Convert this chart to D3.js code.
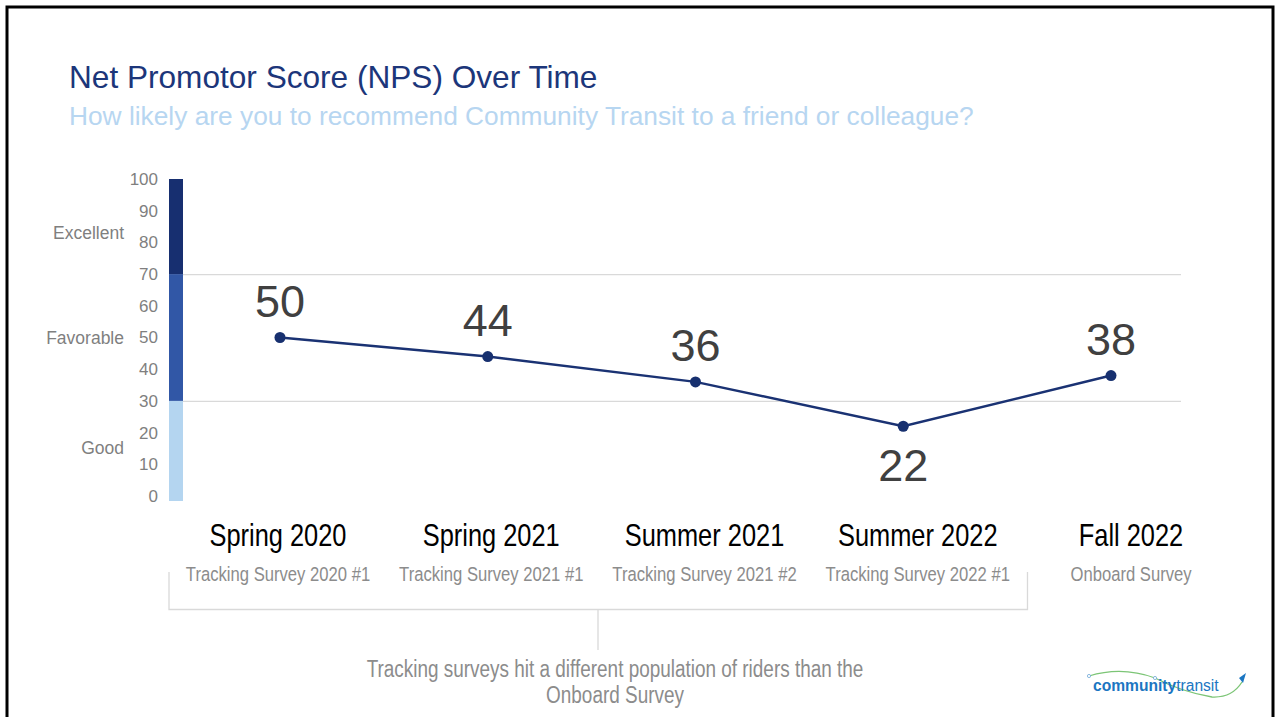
<!DOCTYPE html>
<html>
<head>
<meta charset="utf-8">
<script src="https://cdn.jsdelivr.net/npm/d3@7"></script>
<style>
  html, body { margin: 0; padding: 0; background: #fff; }
  svg { display: block; }
</style>
</head>
<body>
<svg id="chart" width="1275" height="717"></svg>
<script>
// chart data
var periods = ['Spring 2020', 'Spring 2021', 'Summer 2021', 'Summer 2022', 'Fall 2022'];
var surveys = ['Tracking Survey 2020 #1', 'Tracking Survey 2021 #1', 'Tracking Survey 2021 #2', 'Tracking Survey 2022 #1', 'Onboard Survey'];
var npsValues = [50, 44, 36, 22, 38];
var yTicks = [0, 10, 20, 30, 40, 50, 60, 70, 80, 90, 100];
var bandNames = ['Good', 'Favorable', 'Excellent'];
var bandLow = [0, 30, 70];
var bandHigh = [30, 70, 100];
var bandLabelAt = [15, 50, 83];
var bandColors = ['#b4d5f0', '#3157a6', '#172f70'];
var gridValues = [30, 70];

var titleText = 'Net Promotor Score (NPS) Over Time';
var subtitleText = 'How likely are you to recommend Community Transit to a friend or colleague?';
var noteLines = ['Tracking surveys hit a different population of riders than the', 'Onboard Survey'];

var svg = d3.select('#chart');
var SANS = '"Liberation Sans", Arial, sans-serif';
var NARROW = 0.82; // fake Arial Narrow by squeezing horizontally

// slide frame
svg.append('rect')
    .attr('x', 7).attr('y', 7)
    .attr('width', 1266).attr('height', 730)
    .attr('fill', 'none')
    .attr('stroke', '#000')
    .attr('stroke-width', 3);

// titles
svg.append('text')
    .attr('x', 69).attr('y', 88)
    .attr('font-family', SANS).attr('font-size', 31.6)
    .attr('fill', '#1c367a')
    .text(titleText);

svg.append('text')
    .attr('x', 69).attr('y', 125)
    .attr('font-family', SANS).attr('font-size', 26.3)
    .attr('fill', '#b7d6f1')
    .text(subtitleText);

// scales: points for the line, a slightly wider spread for the labels underneath
var x = d3.scalePoint().domain(periods).range([280, 1111]);
var xLabel = d3.scalePoint().domain(periods).range([278, 1131]);
var y = d3.scaleLinear().domain([0, 100]).range([496, 179]);

// gridlines
svg.selectAll('line.grid').data(gridValues).enter().append('line')
    .attr('class', 'grid')
    .attr('x1', 183).attr('x2', 1181)
    .attr('y1', function(d) { return y(d) + 0.5; })
    .attr('y2', function(d) { return y(d) + 0.5; })
    .attr('stroke', '#d9d9d9')
    .attr('stroke-width', 1.2);

// coloured rating bar
var bands = bandNames.map(function(n, i) {
  return { name: n, lo: bandLow[i], hi: bandHigh[i], at: bandLabelAt[i], color: bandColors[i] };
});

svg.selectAll('rect.band').data(bands).enter().append('rect')
    .attr('class', 'band')
    .attr('x', 169).attr('width', 14)
    .attr('y', function(d) { return y(d.hi); })
    .attr('height', function(d) { return y(d.lo) - y(d.hi) + (d.lo === 0 ? 5 : 0); })
    .attr('fill', function(d) { return d.color; });

// band names
svg.selectAll('text.bandName').data(bands).enter().append('text')
    .attr('class', 'bandName')
    .attr('x', 124)
    .attr('y', function(d) { return y(d.at) + 6; })
    .attr('text-anchor', 'end')
    .attr('font-family', SANS).attr('font-size', 17.5)
    .attr('fill', '#7f7f7f')
    .text(function(d) { return d.name; });

// y axis
var yAxis = svg.append('g')
    .attr('transform', 'translate(166,0)')
    .call(d3.axisLeft(y).tickValues(yTicks).tickSize(0).tickPadding(8));
yAxis.select('.domain').remove();
yAxis.selectAll('text')
    .attr('font-family', SANS).attr('font-size', 17)
    .attr('fill', '#7f7f7f');

// line + markers
var line = d3.line()
    .x(function(d, i) { return x(periods[i]); })
    .y(function(d) { return y(d); });

svg.append('path')
    .datum(npsValues)
    .attr('d', line)
    .attr('fill', 'none')
    .attr('stroke', '#1a3273')
    .attr('stroke-width', 2.5);

svg.selectAll('circle.pt').data(npsValues).enter().append('circle')
    .attr('class', 'pt')
    .attr('cx', function(d, i) { return x(periods[i]); })
    .attr('cy', function(d) { return y(d); })
    .attr('r', 5.5)
    .attr('fill', '#17306f');

// value labels (the low point gets its label underneath)
var minVal = d3.min(npsValues);
svg.selectAll('text.val').data(npsValues).enter().append('text')
    .attr('class', 'val')
    .attr('x', function(d, i) { return x(periods[i]); })
    .attr('y', function(d) { return d === minVal ? y(d) + 55 : y(d) - 21; })
    .attr('text-anchor', 'middle')
    .attr('font-family', SANS).attr('font-size', 45)
    .attr('fill', '#404040')
    .text(function(d) { return d; });

// category labels
svg.selectAll('text.period').data(periods).enter().append('text')
    .attr('class', 'period')
    .attr('transform', function(d) { return 'translate(' + xLabel(d) + ',546) scale(' + NARROW + ',1)'; })
    .attr('text-anchor', 'middle')
    .attr('font-family', SANS).attr('font-size', 31)
    .attr('fill', '#000')
    .text(function(d) { return d; });

svg.selectAll('text.survey').data(surveys).enter().append('text')
    .attr('class', 'survey')
    .attr('transform', function(d, i) { return 'translate(' + xLabel(periods[i]) + ',581) scale(' + NARROW + ',1)'; })
    .attr('text-anchor', 'middle')
    .attr('font-family', SANS).attr('font-size', 20.3)
    .attr('fill', '#8c8c8c')
    .text(function(d) { return d; });

// bracket grouping the tracking surveys
svg.append('path')
    .attr('d', 'M169,572V609.5H1027.5V572M598,609.5V650')
    .attr('fill', 'none')
    .attr('stroke', '#d9d9d9')
    .attr('stroke-width', 1.3);

svg.selectAll('text.note').data(noteLines).enter().append('text')
    .attr('class', 'note')
    .attr('transform', function(d, i) { return 'translate(615,' + (677 + i * 26) + ') scale(' + NARROW + ',1)'; })
    .attr('text-anchor', 'middle')
    .attr('font-family', SANS).attr('font-size', 23.1)
    .attr('fill', '#8c8c8c')
    .text(function(d) { return d; });

// logo (rough)
var logo = svg.append('g').attr('transform', 'translate(1087,672)');
logo.append('path')
    .attr('d', 'M2,4 Q35,-6 68,6 M68,6 Q95,20 125,25 Q145,26 155,10')
    .attr('fill', 'none')
    .attr('stroke', '#7cc576')
    .attr('stroke-width', 1.3);
logo.append('path')
    .attr('d', 'M152,6 L159,1 L156,11 Z')
    .attr('fill', '#1b76c2');
[[2, 4], [68, 6]].forEach(function(p) {
  logo.append('circle').attr('cx', p[0]).attr('cy', p[1]).attr('r', 1.6)
      .attr('fill', '#fff').attr('stroke', '#6fa8d8').attr('stroke-width', 0.8);
});
var lt = logo.append('text')
    .attr('x', 6).attr('y', 19)
    .attr('font-family', SANS).attr('font-size', 15.6)
    .attr('fill', '#1b76c2');
lt.append('tspan').attr('font-weight', 'bold').text('community');
lt.append('tspan').text('transit');
</script>
</body>
</html>
